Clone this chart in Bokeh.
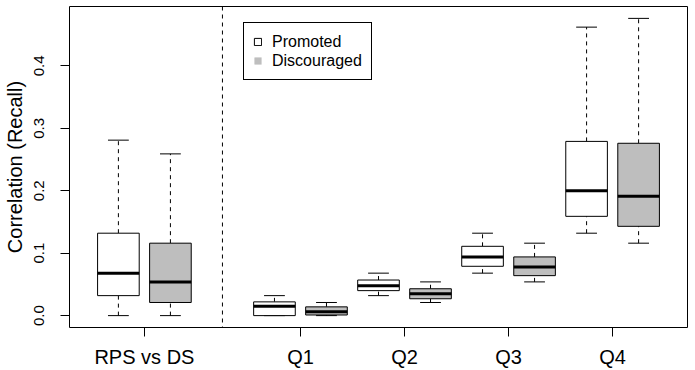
from bokeh.plotting import figure
from bokeh.models import Range1d, FixedTicker, Span, Legend, LegendItem, ColumnDataSource
from bokeh.embed import file_html
from bokeh.resources import INLINE

# ---- data (five-number summaries) ----
groups = ["RPS vs DS", "Q1", "Q2", "Q3", "Q4"]

promoted_low = [0.000, 0.000, 0.032, 0.068, 0.132]
promoted_q1 = [0.032, 0.000, 0.040, 0.079, 0.159]
promoted_med = [0.068, 0.015, 0.048, 0.094, 0.200]
promoted_q3 = [0.132, 0.022, 0.057, 0.111, 0.279]
promoted_high = [0.281, 0.032, 0.068, 0.132, 0.462]

discouraged_low = [0.000, 0.000, 0.021, 0.054, 0.116]
discouraged_q1 = [0.021, 0.001, 0.027, 0.064, 0.143]
discouraged_med = [0.054, 0.006, 0.035, 0.078, 0.191]
discouraged_q3 = [0.116, 0.014, 0.043, 0.094, 0.276]
discouraged_high = [0.259, 0.021, 0.054, 0.116, 0.476]

# box slots (R boxplot "at" positions; slot 3 left empty as separator)
promoted_at = [1, 4, 6, 8, 10]
discouraged_at = [2, 5, 7, 9, 11]
group_at = [1.5, 4.5, 6.5, 8.5, 10.5]
separator_at = 3
n_slots = 11

BOX_W = 0.8
CAP_W = 0.4
FONT = "Liberation Sans"

all_vals = promoted_low + promoted_high + discouraged_low + discouraged_high
ymin, ymax = min(all_vals), max(all_vals)
ypad = 0.04 * (ymax - ymin)
xpad = 0.04 * n_slots

p = figure(width=695, height=370, output_backend="svg", toolbar_location=None,
           title=None,
           x_range=Range1d(0.5 - xpad, n_slots + 0.5 + xpad),
           y_range=Range1d(ymin - ypad, ymax + ypad),
           min_border_left=68, min_border_right=8, min_border_top=6, min_border_bottom=40,
           background_fill_color="white", border_fill_color="white")
p.outline_line_color = "black"
p.outline_line_width = 1
p.xgrid.visible = False
p.ygrid.visible = False


def draw_boxes(at, low, q1, med, q3, high, fill):
    src = ColumnDataSource(dict(
        x=at, low=low, q1=q1, med=med, q3=q3, high=high,
        xl=[a - BOX_W / 2 for a in at], xr=[a + BOX_W / 2 for a in at],
        cl=[a - CAP_W / 2 for a in at], cr=[a + CAP_W / 2 for a in at],
    ))
    p.segment(x0="x", y0="q3", x1="x", y1="high", source=src, line_color="black",
              line_width=1, line_dash="4 4")
    p.segment(x0="x", y0="low", x1="x", y1="q1", source=src, line_color="black",
              line_width=1, line_dash="4 4")
    p.segment(x0="cl", y0="high", x1="cr", y1="high", source=src, line_color="black", line_width=1)
    p.segment(x0="cl", y0="low", x1="cr", y1="low", source=src, line_color="black", line_width=1)
    p.quad(left="xl", right="xr", bottom="q1", top="q3", source=src,
           fill_color=fill, line_color="black", line_width=1)
    p.segment(x0="xl", y0="med", x1="xr", y1="med", source=src, line_color="black",
              line_width=3, line_cap="butt")


draw_boxes(promoted_at, promoted_low, promoted_q1, promoted_med, promoted_q3, promoted_high, "white")
draw_boxes(discouraged_at, discouraged_low, discouraged_q1, discouraged_med, discouraged_q3,
           discouraged_high, "#BEBEBE")

p.add_layout(Span(location=separator_at, dimension="height", line_color="black",
                  line_width=1, line_dash="4 4"))

# axes
p.xaxis.ticker = FixedTicker(ticks=group_at)
p.xaxis.major_label_overrides = {g: lab for g, lab in zip(group_at, groups)}
p.yaxis.ticker = FixedTicker(ticks=[0.0, 0.1, 0.2, 0.3, 0.4])
p.yaxis.major_label_overrides = {0.0: "0.0", 0.1: "0.1", 0.2: "0.2", 0.3: "0.3", 0.4: "0.4"}
for ax in (p.xaxis, p.yaxis):
    ax.axis_line_color = None
    ax.major_tick_out = 9
    ax.major_tick_in = 0
    ax.minor_tick_line_color = None
    ax.major_tick_line_color = "black"
    ax.major_label_text_color = "black"
    ax.major_label_text_font = FONT
p.xaxis.major_label_text_font_size = "20px"
p.xaxis.major_label_standoff = 9
p.yaxis.major_label_text_font_size = "15px"
p.yaxis.major_label_orientation = "vertical"
p.yaxis.major_label_standoff = 16
p.yaxis.axis_label = "Correlation (Recall)"
p.yaxis.axis_label_text_font = FONT
p.yaxis.axis_label_text_font_size = "20px"
p.yaxis.axis_label_text_font_style = "normal"
p.yaxis.axis_label_text_color = "black"
p.yaxis.axis_label_standoff = 6

# legend (keys only; the NaN rows draw nothing in the plot area)
nan = float("nan")
lp = p.quad(left=[nan], right=[nan], bottom=[nan], top=[nan],
            fill_color="white", line_color="black", line_width=1)
ld = p.quad(left=[nan], right=[nan], bottom=[nan], top=[nan],
            fill_color="#BEBEBE", line_color=None)
legend = Legend(items=[LegendItem(label="Promoted", renderers=[lp]),
                       LegendItem(label="Discouraged", renderers=[ld])],
                location=(174, 247), orientation="vertical", padding=9, margin=0, spacing=0,
                glyph_width=9, glyph_height=9, label_height=19, label_standoff=10,
                label_text_font=FONT, label_text_font_size="16px", label_text_color="black",
                border_line_color="black", border_line_width=1, border_line_alpha=1,
                background_fill_color="white", background_fill_alpha=1)
p.add_layout(legend)

open("out.html", "w").write(file_html(p, INLINE))
